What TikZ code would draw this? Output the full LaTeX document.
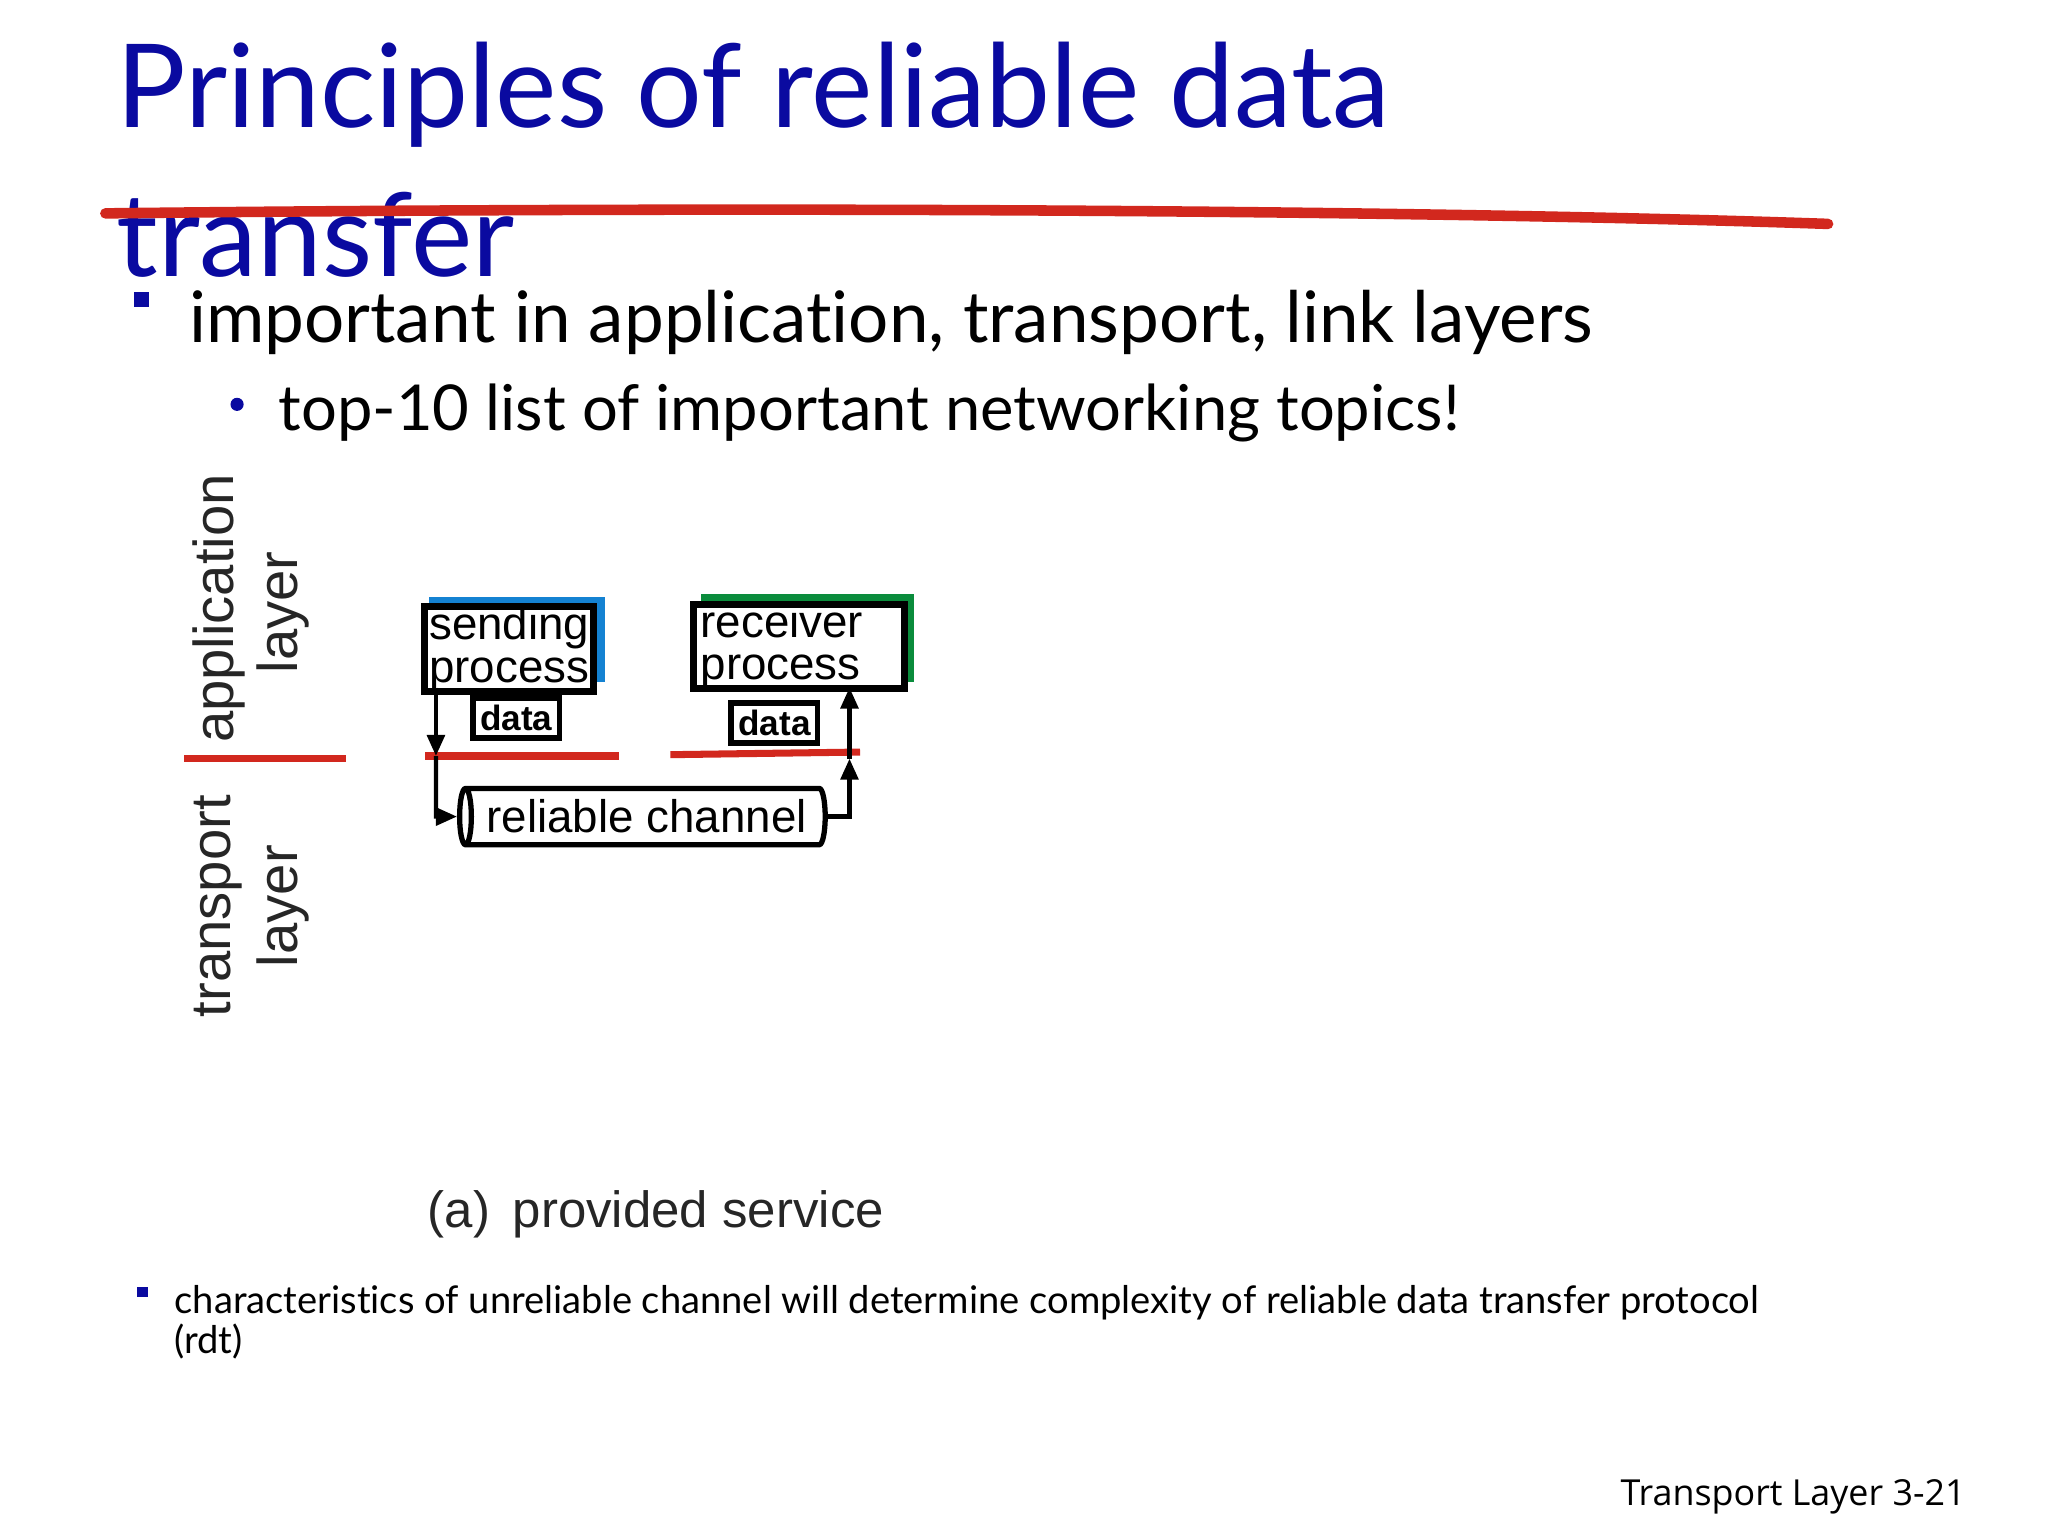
\documentclass[tikz,border=0pt]{standalone}
\usepackage{fontspec}
\setmainfont{Lato}[Ligatures=NoCommon]
\newfontfamily\diag{Liberation Sans}
\newfontfamily\foot{Open Sans}
\usetikzlibrary{shapes.geometric,arrows.meta}
\definecolor{ttl}{RGB}{10,10,160}
\definecolor{redl}{RGB}{210,40,30}
\definecolor{blu}{RGB}{20,130,210}
\definecolor{grn}{RGB}{10,140,60}
\tikzset{
  procbox/.style={draw=black,line width=2pt,fill=white,inner sep=0pt,align=left,font=\diag\fontsize{13}{12}\selectfont},
  databox/.style={draw=black,line width=1.6pt,fill=white,inner sep=2pt,font=\diag\bfseries\fontsize{10}{10}\selectfont},
  redline/.style={draw=redl,line width=2pt},
  conn/.style={draw=black,line width=1.2pt,-{Triangle[length=6pt,width=5pt]}},
  lay/.style={font=\diag\fontsize{16}{16}\selectfont,rotate=90,text=black!85},
}
\begin{document}
\begin{tikzpicture}[x=0.01317cm,y=-0.01317cm]
\useasboundingbox (0,0) rectangle (1555,1166);
% title
\node[anchor=base west,inner sep=0,text=ttl,font=\fontsize{33}{33}\selectfont] (t1) at (88,97) {Principles of reliable data};
\node[anchor=base west,inner sep=0,text=ttl,font=\fontsize{33}{33}\selectfont] (t2) at (88,210) {transfer};
\draw[redl,line width=3pt,line cap=round] (80,162) .. controls (600,156) and (1100,160) .. (1388,170);
% bullets
\fill[ttl] (102,222) rectangle (113,233);
\node[anchor=base west,inner sep=0,font=\fontsize{20.2}{20}\selectfont] (b1) at (143,260) {important in application, transport, link layers};
\fill[ttl] (180,307) circle (5);
\node[anchor=base west,inner sep=0,font=\fontsize{18}{18}\selectfont] (b2) at (211,327) {top-10 list of important networking topics!};
% layers
\node[lay] (app) at (166,462) {application};
\node[lay] (appl) at (215,465) {layer};
\node[lay] (tr) at (166,688) {transport};
\node[lay] (trl) at (215,688) {layer};
\draw[redline] (140,576) -- (263,576);
% processes
\fill[blu] (326,453) rectangle (459,518);
\node[procbox,minimum width=48pt,minimum height=23.5pt,anchor=north west] (snd) at (320,458) {sending\\process};
\fill[grn] (532,451) rectangle (694,518);
\node[procbox,minimum width=60pt,minimum height=24pt,anchor=north west,text width=56pt] (rcv) at (524,456) {receiver\\process};
\node[databox] (d1) at (392,545) {data};
\node[databox] (d2) at (588,549) {data};
\draw[redline] (323,574) -- (470,574);
\draw[redline] (509,573) -- (653,571);
% channel
\node[cylinder,shape border rotate=180,draw,line width=1.5pt,shape aspect=0.35,minimum width=16pt,minimum height=104pt,inner sep=0pt,font=\diag\fontsize{13}{13}\selectfont] (ch) at (491,620) {reliable channel};
\coordinate (sd) at (331,574);
\coordinate (sc) at (331,620);
\coordinate (rc) at (645,620);
\coordinate (ru) at (645,576);
\draw[conn] (331,522) -- (sd);
\draw[conn] (sd) -- (sc) -- (ch.west);
\draw[conn] (ch.east) -- (rc) -- (ru);
\draw[conn] (ru) -- (645,522);
\node[anchor=base,font=\diag\fontsize{14.5}{14}\selectfont,text=black!85] (cap) at (498,932) {(a)\, provided service};
% bottom bullet
\fill[ttl] (104,977) rectangle (112,985);
\node[anchor=base west,inner sep=0,font=\fontsize{10.85}{11}\selectfont,align=left] (b3) at (132,997) {characteristics of unreliable channel will determine complexity of reliable data transfer protocol};
\node[anchor=base west,inner sep=0,font=\fontsize{10.85}{11}\selectfont] (b4) at (132,1028) {(rdt)};
\node[anchor=base east,inner sep=0,font=\foot\fontsize{10.2}{11}\selectfont] (ft) at (1493,1143) {Transport Layer 3-21};
\end{tikzpicture}
\end{document}
